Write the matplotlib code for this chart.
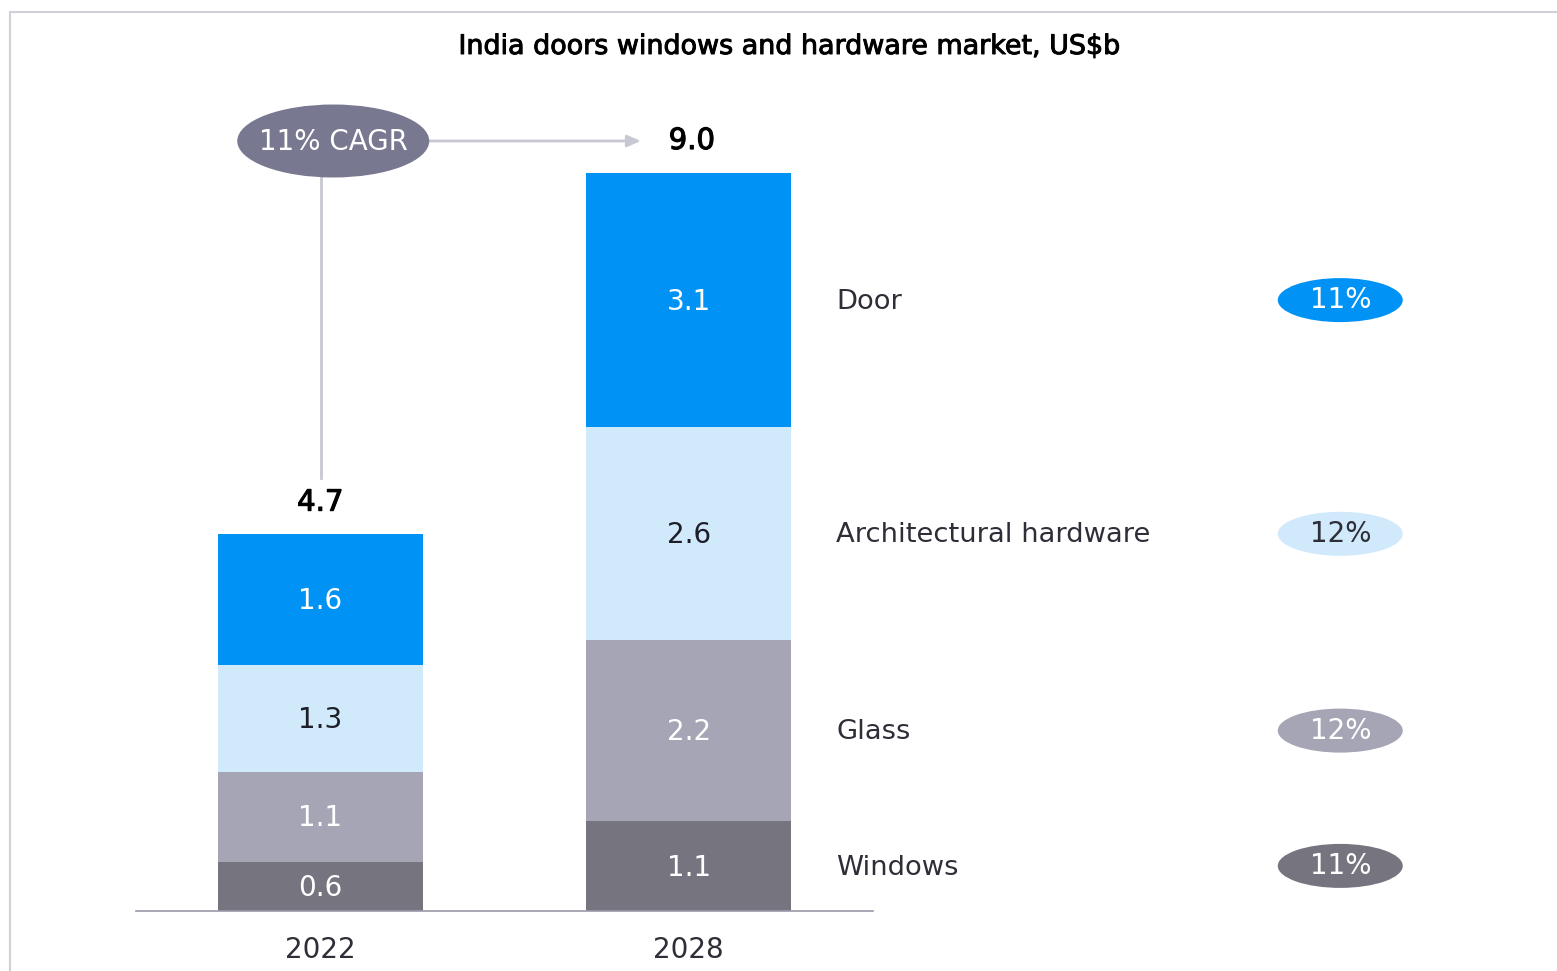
import matplotlib
matplotlib.use("Agg")
import matplotlib.pyplot as plt
from matplotlib.patches import Ellipse
from matplotlib.lines import Line2D
import matplotlib.patheffects as pe

years = ["2022", "2028"]
segments = ["Windows", "Glass", "Architectural hardware", "Door"]
values = {
    "Windows": [0.6, 1.1],
    "Glass": [1.1, 2.2],
    "Architectural hardware": [1.3, 2.6],
    "Door": [1.6, 3.1],
}
totals = ["4.7", "9.0"]
segment_cagr = ["11%", "12%", "12%", "11%"]
overall_cagr = "11% CAGR"
title = "India doors windows and hardware market, US$b"

colors = {
    "Windows": "#75747F",
    "Glass": "#A6A5B5",
    "Architectural hardware": "#D0EAFC",
    "Door": "#0092F4",
}
text_colors = {
    "Windows": "white",
    "Glass": "white",
    "Architectural hardware": "#1E1E28",
    "Door": "white",
}
DARK = "#2E2E38"
FONT = ["DejaVu Sans"]
plt.rcParams["font.family"] = FONT
FS = 20

W, H = 1557, 971
fig = plt.figure(figsize=(W / 100, H / 100), dpi=100)

px_per_x = 368.5
px_per_y = 82.0
left_px, base_px = 136, 911
ax_w_px = W - left_px
ax_h_px = base_px - 20
ax = fig.add_axes([left_px / W, (H - base_px) / H, ax_w_px / W, ax_h_px / H])
ax.set_xlim(-0.5, -0.5 + ax_w_px / px_per_x)
ax.set_ylim(0, ax_h_px / px_per_y)
ax.axis("off")

dy = -0.02  # small vertical text nudge

x = [0, 1]
bw = 0.555
bottoms = [0.0, 0.0]
for seg in segments:
    vals = values[seg]
    ax.bar(x, vals, bw, bottom=bottoms, color=colors[seg], linewidth=0, zorder=2)
    for i in range(2):
        ax.text(x[i], bottoms[i] + vals[i] / 2 + dy, f"{vals[i]:.1f}", ha="center", va="center",
                fontsize=FS, color=text_colors[seg], zorder=3)
    bottoms = [bottoms[i] + vals[i] for i in range(2)]

ax.plot([-0.5, 1.5], [0, 0], color="#9A9AA8", lw=1.2, zorder=4, clip_on=False)

for i, y in enumerate(years):
    ax.text(x[i], -0.47, y, ha="center", va="center", fontsize=FS, color=DARK, clip_on=False)

bold_fx = [pe.withStroke(linewidth=0.8, foreground="black")]
ax.text(x[0], bottoms[0] + 0.38, totals[0], ha="center", va="center", fontsize=FS + 1,
        color="black", path_effects=bold_fx)
ax.text(x[1] + 0.008, bottoms[1] + 0.39, totals[1], ha="center", va="center", fontsize=FS + 1,
        color="black", path_effects=bold_fx)

cum = 0.0
label_x = 1.40
pill_x = 2.768
for k, seg in enumerate(segments):
    v = values[seg][1]
    ymid = cum + v / 2
    cum += v
    ax.text(label_x, ymid + dy, seg, ha="left", va="center", fontsize=FS - 0.3, color=DARK)
    e = Ellipse((pill_x, ymid), 125 / px_per_x, 44 / px_per_y, facecolor=colors[seg],
                edgecolor="none", zorder=3)
    ax.add_patch(e)
    tc = DARK if seg == "Architectural hardware" else "white"
    ax.text(pill_x, ymid + 0.0, segment_cagr[k], ha="center", va="center", fontsize=FS,
            color=tc, zorder=4)

cagr_x = (333 - 320) / px_per_x
cagr_y = (base_px - 141) / px_per_y
ell = Ellipse((cagr_x, cagr_y), 192 / px_per_x, 73 / px_per_y, facecolor="#787890",
              edgecolor="none", zorder=5)
ax.add_patch(ell)
ax.text(cagr_x, cagr_y - 0.01, overall_cagr, ha="center", va="center", fontsize=FS,
        color="white", zorder=6)
line_c = "#C8C8D2"
vx = (321 - 320) / px_per_x
ax.plot([vx, vx], [cagr_y - 36 / px_per_y, bottoms[0] + 0.68], color=line_c, lw=2, zorder=1)
ax.annotate("", xy=(1 - 0.13, cagr_y), xytext=(cagr_x + 96 / px_per_x, cagr_y),
            arrowprops=dict(arrowstyle="-|>,head_length=0.8,head_width=0.35", color=line_c,
                            lw=2, shrinkA=0, shrinkB=0), zorder=1)

fig.text(789 / W, 1 - 47 / H, title, ha="center", va="center", fontsize=19.4, color="black",
         path_effects=[pe.withStroke(linewidth=0.7, foreground="black")])

fig.add_artist(Line2D([10 / W, 1], [1 - 12 / H, 1 - 12 / H], color="#D0D0D8", lw=1.5))
fig.add_artist(Line2D([10 / W, 10 / W], [0, 1 - 12 / H], color="#D0D0D8", lw=1.5))

fig.savefig("out.png", dpi=100)
